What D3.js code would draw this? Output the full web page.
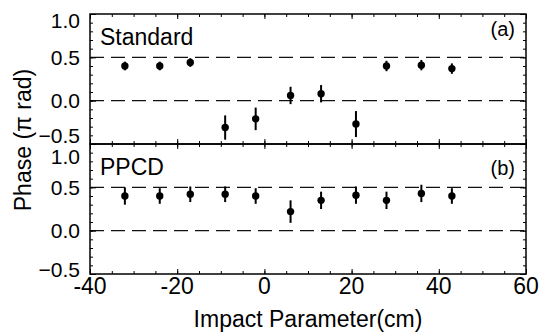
<!DOCTYPE html>
<html>
<head>
<meta charset="utf-8">
<script src="https://cdn.jsdelivr.net/npm/d3@7"></script>
<style>
  body { margin: 0; background: #fff; }
  svg { display: block; font-family: "Liberation Sans", Arial, Helvetica, sans-serif; }
  .axis path { display: none; }
  .axis line { stroke: #000; stroke-width: 1; }
</style>
</head>
<body>
<div id="chart"></div>
<script>
// chart data
var impact = [-32, -24, -17, -9, -2, 6, 13, 21, 28, 36, 43];
var standardPhase = [0.40, 0.40, 0.44, -0.31, -0.21, 0.06, 0.08, -0.27, 0.40, 0.41, 0.37];
var standardErr = [0.05, 0.05, 0.05, 0.14, 0.13, 0.10, 0.10, 0.15, 0.06, 0.06, 0.06];
var ppcdPhase = [0.40, 0.40, 0.42, 0.42, 0.40, 0.22, 0.35, 0.41, 0.35, 0.43, 0.40];
var ppcdErr = [0.10, 0.09, 0.09, 0.09, 0.09, 0.13, 0.10, 0.10, 0.10, 0.10, 0.09];
var refLines = [0.5, 0.0];
var xTickLabels = [-40, -20, 0, 20, 40, 60];
var yTickLabels = [-0.5, 0.0, 0.5, 1.0];
var panelNames = ["Standard", "PPCD"];
var panelTags = ["(a)", "(b)"];

var svgWidth = 539;
var svgHeight = 335;
var margin = { top: 14, left: 90, right: 13 };
var width = svgWidth - margin.left - margin.right;
var panelHeight = 130;

var svg = d3.select("#chart")
    .append("svg")
    .attr("width", svgWidth)
    .attr("height", svgHeight);

var xScale = d3.scaleLinear().domain([-40, 60]).range([0, width]);
var xMinor = d3.range(-40, 61, 5);
var yMinor = d3.range(-5, 11).map(d => d / 10);

var panels = [
    { phase: standardPhase, err: standardErr },
    { phase: ppcdPhase, err: ppcdErr }
];

// label nudges so neighbouring panels' end labels don't collide
var labelNudge = [
    { "1": 6, "-0.5": -9 },
    { "1": 12, "-0.5": -5 }
];

panels.forEach(function(p, i) {
    var g = svg.append("g")
        .attr("transform", `translate(${margin.left}, ${margin.top + i * panelHeight})`);

    var yScale = d3.scaleLinear().domain([-0.5, 1.0]).range([panelHeight, 0]);

    // dashed reference lines
    g.selectAll(".ref")
        .data(refLines)
        .enter()
        .append("line")
        .attr("x1", 0)
        .attr("x2", width)
        .attr("y1", d => yScale(d))
        .attr("y2", d => yScale(d))
        .attr("stroke", "#111")
        .attr("stroke-width", 1.2)
        .attr("stroke-dasharray", "14,7");

    // y ticks, left and right, inside
    g.append("g").attr("class", "axis")
        .call(d3.axisLeft(yScale).tickValues(yMinor).tickSize(-3).tickFormat(""));
    g.append("g").attr("class", "axis")
        .call(d3.axisLeft(yScale).tickValues(yTickLabels).tickSize(-6).tickFormat(""));
    g.append("g").attr("class", "axis")
        .attr("transform", `translate(${width}, 0)`)
        .call(d3.axisRight(yScale).tickValues(yMinor).tickSize(-3).tickFormat(""));
    g.append("g").attr("class", "axis")
        .attr("transform", `translate(${width}, 0)`)
        .call(d3.axisRight(yScale).tickValues(yTickLabels).tickSize(-6).tickFormat(""));

    // x ticks at top and bottom of the panel
    g.append("g").attr("class", "axis")
        .call(d3.axisTop(xScale).tickValues(xMinor).tickSize(-3).tickFormat(""));
    g.append("g").attr("class", "axis")
        .call(d3.axisTop(xScale).tickValues(d3.range(-40, 61, 20)).tickSize(-5).tickFormat(""));
    g.append("g").attr("class", "axis")
        .attr("transform", `translate(0, ${panelHeight})`)
        .call(d3.axisBottom(xScale).tickValues(xMinor).tickSize(-3).tickFormat(""));
    g.append("g").attr("class", "axis")
        .attr("transform", `translate(0, ${panelHeight})`)
        .call(d3.axisBottom(xScale).tickValues(d3.range(-40, 61, 20)).tickSize(-5).tickFormat(""));

    // y tick labels
    g.selectAll(".ylab")
        .data(yTickLabels)
        .enter()
        .append("text")
        .attr("x", -10)
        .attr("y", d => yScale(d) + (labelNudge[i][String(d)] || 0))
        .attr("dy", "0.36em")
        .attr("text-anchor", "end")
        .style("font-size", "21px")
        .text(d => d3.format(".1f")(d));

    // frame
    g.append("rect")
        .attr("width", width)
        .attr("height", panelHeight)
        .attr("fill", "none")
        .attr("stroke", "#000")
        .attr("stroke-width", 1.5);

    // error bars
    g.selectAll(".err")
        .data(impact)
        .enter()
        .append("line")
        .attr("x1", d => xScale(d))
        .attr("x2", d => xScale(d))
        .attr("y1", (d, j) => yScale(p.phase[j] - p.err[j]))
        .attr("y2", (d, j) => yScale(p.phase[j] + p.err[j]))
        .attr("stroke", "#000")
        .attr("stroke-width", 2);

    // points
    g.selectAll(".pt")
        .data(impact)
        .enter()
        .append("circle")
        .attr("cx", d => xScale(d))
        .attr("cy", (d, j) => yScale(p.phase[j]))
        .attr("r", 3.7)
        .attr("fill", "#000");

    // panel texts
    g.append("text")
        .attr("x", 10)
        .attr("y", 31)
        .style("font-size", "23px")
        .text(panelNames[i]);

    g.append("text")
        .attr("x", width - 11)
        .attr("y", i === 0 ? 22 : 31)
        .attr("text-anchor", "end")
        .style("font-size", "20px")
        .text(panelTags[i]);
});

// x tick labels below the lower panel
svg.append("g")
    .selectAll("text")
    .data(xTickLabels)
    .enter()
    .append("text")
    .attr("x", d => margin.left + xScale(d))
    .attr("y", margin.top + 2 * panelHeight + 20)
    .attr("text-anchor", "middle")
    .style("font-size", "23px")
    .text(d => d);

// axis titles
svg.append("text")
    .attr("x", margin.left + width / 2)
    .attr("y", 327)
    .attr("text-anchor", "middle")
    .style("font-size", "23px")
    .text("Impact Parameter(cm)");

svg.append("text")
    .attr("transform", "rotate(-90)")
    .attr("x", -140)
    .attr("y", 31)
    .attr("text-anchor", "middle")
    .style("font-size", "23px")
    .text("Phase (π rad)");
</script>
</body>
</html>
